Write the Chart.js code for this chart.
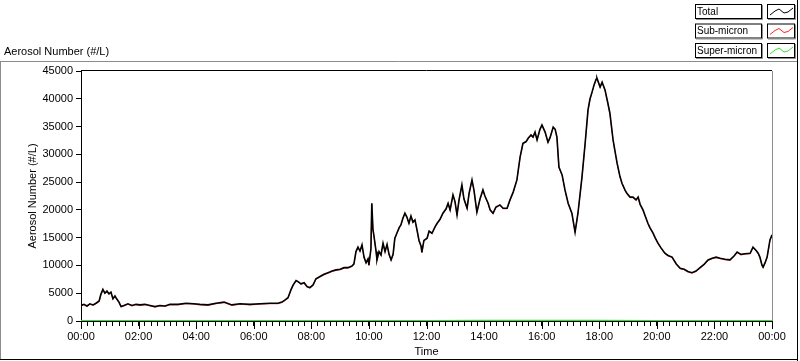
<!DOCTYPE html>
<html><head><meta charset="utf-8">
<script src="https://cdn.jsdelivr.net/npm/chart.js@4.4.1/dist/chart.umd.min.js"></script>
<style>html,body{margin:0;padding:0;background:#fff;overflow:hidden}#wrap{position:relative;width:800px;height:361px}</style>
</head><body><div id="wrap"><canvas id="c" width="800" height="361"></canvas></div>
<script>
// time of day in hours
const times = [0.00,0.10,0.21,0.31,0.42,0.52,0.63,0.69,0.76,0.83,0.90,0.97,1.04,1.11,1.18,1.25,1.32,1.39,1.49,1.63,1.77,1.91,2.05,2.22,2.40,2.57,2.74,2.92,3.09,3.37,3.65,3.92,4.13,4.41,4.69,4.97,5.24,5.52,5.87,6.22,6.56,6.84,6.98,7.09,7.19,7.29,7.37,7.47,7.54,7.64,7.75,7.85,7.95,8.06,8.16,8.30,8.44,8.58,8.72,8.86,9.00,9.14,9.27,9.41,9.48,9.55,9.62,9.69,9.76,9.83,9.90,9.97,10.00,10.07,10.10,10.14,10.17,10.25,10.28,10.35,10.42,10.49,10.56,10.63,10.70,10.77,10.84,10.90,10.97,11.05,11.11,11.18,11.25,11.32,11.39,11.46,11.53,11.60,11.67,11.74,11.81,11.84,11.91,12.02,12.09,12.19,12.30,12.37,12.47,12.57,12.68,12.75,12.82,12.92,12.99,13.06,13.13,13.23,13.30,13.41,13.48,13.58,13.65,13.75,13.86,13.96,14.03,14.14,14.21,14.31,14.41,14.55,14.66,14.80,14.90,15.01,15.07,15.14,15.25,15.35,15.46,15.53,15.63,15.70,15.77,15.84,15.94,16.01,16.12,16.22,16.29,16.40,16.47,16.53,16.60,16.71,16.81,16.92,17.05,17.16,17.26,17.40,17.51,17.61,17.68,17.75,17.82,17.89,17.92,18.03,18.10,18.20,18.30,18.37,18.48,18.55,18.62,18.72,18.79,18.90,18.96,19.07,19.17,19.28,19.35,19.42,19.52,19.59,19.69,19.76,19.87,19.94,20.04,20.14,20.28,20.39,20.53,20.67,20.81,20.95,21.08,21.22,21.36,21.50,21.64,21.78,21.92,22.06,22.20,22.37,22.54,22.68,22.79,22.92,23.06,23.24,23.34,23.45,23.52,23.58,23.65,23.69,23.76,23.83,23.93,24.00];
const totalValues = [2800,3000,2700,3100,2900,3200,3600,4800,5700,5000,5400,4900,5200,4000,4500,3900,3400,2600,2800,3100,2800,3000,2900,3000,2800,2600,2800,2700,3000,3000,3200,3100,3000,2900,3200,3400,2900,3100,3000,3100,3200,3200,3400,3800,4200,5600,6500,7300,7100,6700,6900,6200,6000,6500,7600,8000,8400,8700,9000,9200,9300,9600,9600,9900,10300,12500,13300,12600,13700,11500,10500,11200,10100,13000,21200,16500,15500,12500,11000,12500,11900,14000,12500,13800,12000,11000,12000,14900,15800,16800,17300,18500,19400,18700,17600,18900,17800,18200,16400,14500,13500,12400,14500,14900,16200,15800,17000,17600,18300,19400,20200,21200,20000,22700,21500,19100,21800,24500,22000,20300,23000,25400,23500,19600,22000,23600,22500,21200,20000,19400,20500,20900,20300,20300,21800,23200,24200,25400,29500,32000,32300,32900,33500,33100,34000,32600,34500,35300,34000,32200,33000,34900,34500,33100,27700,26300,23600,21200,19400,16000,19400,25900,32000,38000,40000,41200,42500,43500,43700,42100,43000,41600,39200,37400,32600,30500,28400,26000,24800,23500,23000,22300,22300,21800,22300,21000,20000,19000,17600,16800,15800,15000,14000,13200,12200,11800,11500,10300,9500,9300,8900,8700,9000,9600,10200,11000,11300,11500,11300,11100,11000,11700,12400,12000,12100,12200,13300,12700,12200,11500,10100,9700,10500,11500,14600,15500];
const subMicronValues = [2700,2900,2600,3000,2800,3100,3500,4700,5600,4900,5300,4800,5100,3900,4400,3800,3300,2500,2700,3000,2700,2900,2800,2900,2700,2500,2700,2600,2900,2900,3100,3000,2900,2800,3100,3300,2800,3000,2900,3000,3100,3100,3300,3700,4100,5500,6400,7200,7000,6600,6800,6100,5900,6400,7500,7900,8300,8600,8900,9100,9200,9500,9500,9800,10200,12400,13200,12500,13600,11400,10400,11100,10000,12900,21100,16400,15400,12400,10900,12400,11800,13900,12400,13700,11900,10900,11900,14800,15700,16700,17200,18400,19300,18600,17500,18800,17700,18100,16300,14400,13400,12300,14400,14800,16100,15700,16900,17500,18200,19300,20100,21100,19900,22600,21400,19000,21700,24400,21900,20200,22900,25300,23400,19500,21900,23500,22400,21100,19900,19300,20400,20800,20200,20200,21700,23100,24100,25300,29400,31900,32200,32800,33400,33000,33900,32500,34400,35200,33900,32100,32900,34800,34400,33000,27600,26200,23500,21100,19300,15900,19300,25800,31900,37900,39900,41100,42400,43400,43600,42000,42900,41500,39100,37300,32500,30400,28300,25900,24700,23400,22900,22200,22200,21700,22200,20900,19900,18900,17500,16700,15700,14900,13900,13100,12100,11700,11400,10200,9400,9200,8800,8600,8900,9500,10100,10900,11200,11400,11200,11000,10900,11600,12300,11900,12000,12100,13200,12600,12100,11400,10000,9600,10400,11400,14500,15400];
const superTimes = [0,2,4,6,8,10,12,14,16,18,20,22,24];
const superMicronValues = [30,20,25,25,40,50,55,60,70,75,45,35,40];

const yTickValues = [0,5000,10000,15000,20000,25000,30000,35000,40000,45000];
const xMajorHours = [0,2,4,6,8,10,12,14,16,18,20,22,24];
const xTickLabels = ['00:00','02:00','04:00','06:00','08:00','10:00','12:00','14:00','16:00','18:00','20:00','22:00','00:00'];
const seriesNames = ['Total','Sub-micron','Super-micron'];
const seriesColors = ['#000000','#ff2020','#33dd33'];
const yTitle = 'Aerosol Number (#/L)';
const xTitle = 'Time';

const FONT = "'Liberation Sans', Arial, sans-serif";
const MINOR_PER_MAJOR = 9;

function pts(xs, ys){ return xs.map((x,i)=>({x:x, y:ys[i]})); }

const framePlugin = {
  id:'frame',
  beforeDraw(chart){
    const c = chart.ctx;
    c.save();
    c.fillStyle = '#fff'; c.fillRect(0,0,800,361);
    c.lineWidth = 1;
    c.strokeStyle = '#8c8c8c';
    c.beginPath(); c.moveTo(0,61.5); c.lineTo(797,61.5); c.moveTo(0.5,61); c.lineTo(0.5,360); c.stroke();
    c.strokeStyle = '#000';
    c.beginPath(); c.moveTo(797.5,0); c.lineTo(797.5,361); c.moveTo(0,359.5); c.lineTo(798,359.5); c.stroke();
    c.fillStyle = '#000'; c.font = '11px ' + FONT; c.textBaseline = 'middle'; c.textAlign = 'left';
    c.fillText(yTitle, 4, 52);
    c.restore();
  },
  afterDatasetsDraw(chart){
    const a = chart.chartArea, c = chart.ctx;
    c.save(); c.lineWidth = 1;
    c.strokeStyle = '#000';
    c.beginPath(); c.moveTo(a.left, a.top - 0.5); c.lineTo(a.right, a.top - 0.5); c.stroke();
    c.strokeStyle = '#8c8c8c';
    c.beginPath(); c.moveTo(a.right + 0.5, a.top); c.lineTo(a.right + 0.5, a.bottom); c.stroke();
    const xs = chart.scales.x;
    c.strokeStyle = '#000';
    c.beginPath();
    xMajorHours.forEach(h => { const px = Math.round(xs.getPixelForValue(h)) + 0.5; c.moveTo(px, a.bottom); c.lineTo(px, a.bottom + 8); });
    c.stroke();
    c.restore();
  },
  afterDraw(chart){
    const c = chart.ctx;
    c.save();
    const rows = [4, 23.5, 43];
    rows.forEach((y0, i) => {
      c.fillStyle = '#fff';
      c.fillRect(695, y0, 67, 15);
      c.strokeStyle = '#000'; c.lineWidth = 1;
      c.strokeRect(695.5, y0 + 0.5, 66, 14);
      c.strokeStyle = '#8c8c8c';
      c.beginPath(); c.moveTo(762.5, y0 + 1); c.lineTo(762.5, y0 + 15.5); c.lineTo(696, y0 + 15.5); c.stroke();
      c.fillStyle = '#000'; c.font = '10px ' + FONT; c.textBaseline = 'middle'; c.textAlign = 'left';
      c.fillText(seriesNames[i], 697, y0 + 8);
      c.strokeStyle = '#000';
      c.strokeRect(767.5, y0 + 0.5, 27, 14);
      c.strokeStyle = '#8c8c8c';
      c.beginPath(); c.moveTo(795.5, y0 + 1); c.lineTo(795.5, y0 + 15.5); c.lineTo(768, y0 + 15.5); c.stroke();
      c.strokeStyle = seriesColors[i]; c.lineWidth = 1;
      c.beginPath();
      c.moveTo(770, y0 + 11); c.lineTo(775, y0 + 7); c.lineTo(779, y0 + 5); c.lineTo(784, y0 + 9); c.lineTo(788, y0 + 8); c.lineTo(793, y0 + 4);
      c.stroke();
    });
    c.restore();
  }
};

new Chart(document.getElementById('c'), {
  type: 'line',
  data: {
    datasets: [
      { label: seriesNames[0], data: pts(times, totalValues), borderColor: seriesColors[0], borderWidth: 1.6, pointRadius: 0, tension: 0 },
      { label: seriesNames[1], data: pts(times, subMicronValues), borderColor: seriesColors[1], borderWidth: 0.8, pointRadius: 0, tension: 0 },
      { label: seriesNames[2], data: pts(superTimes, superMicronValues), borderColor: seriesColors[2], borderWidth: 1.6, pointRadius: 0, tension: 0 }
    ]
  },
  options: {
    responsive: false, animation: false, devicePixelRatio: 1,
    layout: { padding: { left: 0, top: 71, right: 28, bottom: 0 } },
    plugins: { legend: { display: false }, tooltip: { enabled: false }, title: { display: false } },
    scales: {
      x: {
        type: 'linear', min: 0, max: 24,
        afterBuildTicks: s => {
          const n = (xMajorHours.length - 1) * MINOR_PER_MAJOR;
          const t = [];
          for (let k = 0; k <= n; k++) t.push({ value: k * 2 / MINOR_PER_MAJOR });
          s.ticks = t;
        },
        afterFit: s => { s.height = 40; },
        ticks: {
          autoSkip: false, maxRotation: 0, minRotation: 0, padding: 4, color: '#000',
          font: { family: FONT, size: 11 },
          callback: (v) => {
            const r = v / 2;
            if (Math.abs(r - Math.round(r)) < 1e-6) return xTickLabels[Math.round(r)];
            return '';
          }
        },
        grid: { drawOnChartArea: false, drawTicks: true, tickLength: 5, tickColor: '#000', tickWidth: 1 },
        border: { display: true, color: '#000', width: 1 },
        title: { display: true, text: xTitle, color: '#000', font: { family: FONT, size: 11 }, padding: { top: 0, bottom: 2 } }
      },
      y: {
        min: 0, max: 45000,
        afterBuildTicks: s => { s.ticks = yTickValues.map(v => ({ value: v })); },
        afterFit: s => { s.width = 81; },
        ticks: { padding: 3, color: '#000', font: { family: FONT, size: 11 }, callback: v => String(v) },
        grid: { drawOnChartArea: false, drawTicks: true, tickLength: 5, tickColor: '#000' },
        border: { display: true, color: '#000', width: 1 },
        title: { display: true, text: yTitle, color: '#000', font: { family: FONT, size: 11 }, padding: { top: 26, bottom: 0 } }
      }
    }
  },
  plugins: [framePlugin]
});
</script>
</body></html>
